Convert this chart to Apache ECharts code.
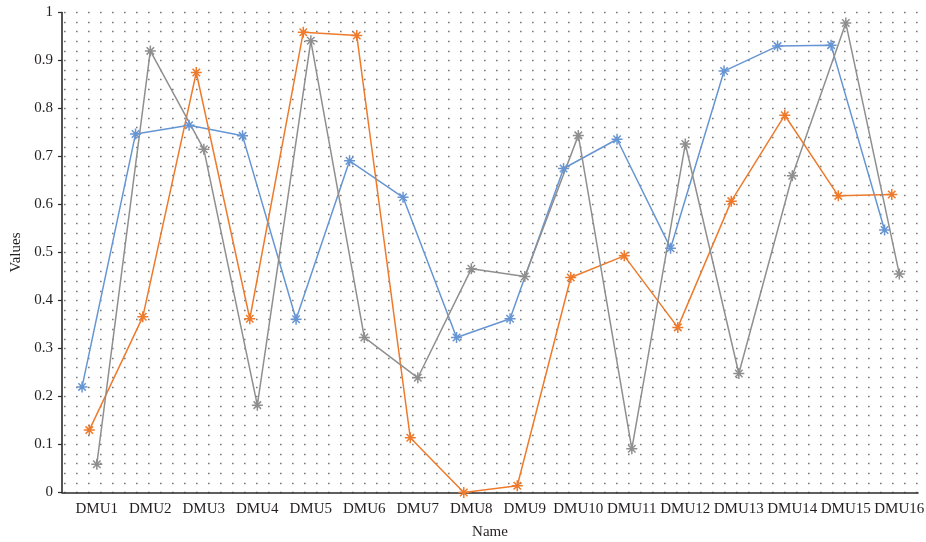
<!DOCTYPE html>
<html>
<head>
<meta charset="utf-8">
<title>DMU values</title>
<script src="https://cdn.jsdelivr.net/npm/echarts@6/dist/echarts.min.js"></script>
<style>
  html, body { margin: 0; padding: 0; background: #ffffff; }
  #chart { width: 926px; height: 542px; }
</style>
</head>
<body>
<div id="chart"></div>
<script>
// Decision-making units along the horizontal axis
const categories = ['DMU1', 'DMU2', 'DMU3', 'DMU4', 'DMU5', 'DMU6', 'DMU7', 'DMU8',
  'DMU9', 'DMU10', 'DMU11', 'DMU12', 'DMU13', 'DMU14', 'DMU15', 'DMU16'];

// Three efficiency series, one value per DMU
const blueValues = [0.220, 0.747, 0.765, 0.743, 0.361, 0.691, 0.615, 0.323,
  0.362, 0.675, 0.736, 0.509, 0.878, 0.930, 0.932, 0.547];
const orangeValues = [0.130, 0.366, 0.875, 0.362, 0.959, 0.952, 0.114, 0.000,
  0.014, 0.448, 0.493, 0.344, 0.607, 0.786, 0.618, 0.621];
const grayValues = [0.059, 0.920, 0.715, 0.182, 0.941, 0.323, 0.239, 0.466,
  0.450, 0.744, 0.091, 0.726, 0.248, 0.660, 0.978, 0.455];

// Value-axis ticks
const yTicks = [0, 0.1, 0.2, 0.3, 0.4, 0.5, 0.6, 0.7, 0.8, 0.9, 1];

// Each series sits slightly shifted inside its category band
const seriesOffsets = { blue: -0.125, orange: 0.01, gray: 0.151 };

const FONT = '"Liberation Serif", "DejaVu Serif", serif';
const TEXT_COLOR = '#231f20';
const AXIS_COLOR = '#2b2b2b';
const DOT_COLOR = '#7a7a7a';

// Asterisk marker drawn as stroked spokes
const ASTERISK = 'path://M0,5L10,5M5,0L5,10M1.6,1.6L8.4,8.4M8.4,1.6L1.6,8.4';

function toPoints(values, offset) {
  return values.map((v, i) => [i + 1 + offset, v]);
}

function makeSeries(name, values, offset, color) {
  return {
    name: name,
    type: 'line',
    xAxisIndex: 1,
    yAxisIndex: 0,
    data: toPoints(values, offset),
    symbol: ASTERISK,
    symbolSize: 11,
    showSymbol: true,
    lineStyle: { color: color, width: 1.5 },
    itemStyle: { color: color, borderColor: color, borderWidth: 1.5 },
    emphasis: { disabled: true },
    animation: false,
    z: 3
  };
}

const dotted = {
  color: DOT_COLOR,
  width: 1.3,
  type: [1.6, 10.4],
  dashOffset: 10
};

const chart = echarts.init(document.getElementById('chart'), null, { renderer: 'canvas' });

chart.setOption({
  backgroundColor: '#ffffff',
  animation: false,
  grid: {
    left: 62, right: 8, top: 12.5, bottom: 49.5,
    containLabel: false,
    outerBoundsMode: 'none'
  },
  xAxis: [
    {
      type: 'category',
      data: categories,
      boundaryGap: true,
      name: 'Name',
      nameLocation: 'middle',
      nameGap: 32.5,
      nameTextStyle: { fontFamily: FONT, fontSize: 15, color: TEXT_COLOR },
      axisLine: { show: true, lineStyle: { color: AXIS_COLOR, width: 1.6 } },
      axisTick: { show: false },
      axisLabel: {
        interval: 0,
        margin: 9,
        fontFamily: FONT,
        fontSize: 15,
        color: TEXT_COLOR,
        padding: [0, 0, 0, 16]
      },
      splitLine: { show: false }
    },
    {
      type: 'value',
      min: 0.5,
      max: 16.5,
      show: false,
      splitLine: { show: false }
    }
  ],
  yAxis: {
    type: 'value',
    min: yTicks[0],
    max: yTicks[yTicks.length - 1],
    interval: 0.1,
    name: 'Values',
    nameLocation: 'middle',
    nameGap: 37,
    nameTextStyle: { fontFamily: FONT, fontSize: 15, color: TEXT_COLOR },
    axisLine: { show: true, lineStyle: { color: AXIS_COLOR, width: 1.6 } },
    axisTick: { show: true, inside: false, length: 4, lineStyle: { color: AXIS_COLOR, width: 1.2 } },
    axisLabel: {
      margin: 9,
      fontFamily: FONT,
      fontSize: 15,
      color: TEXT_COLOR,
      formatter: v => String(Math.round(v * 10) / 10)
    },
    splitLine: { show: true, lineStyle: dotted },
    minorTick: { show: false, splitNumber: 5 },
    minorSplitLine: { show: true, lineStyle: dotted }
  },
  series: [
    makeSeries('Series 1', blueValues, seriesOffsets.blue, '#6695d3'),
    makeSeries('Series 2', orangeValues, seriesOffsets.orange, '#ee7a2c'),
    makeSeries('Series 3', grayValues, seriesOffsets.gray, '#8f8f8f')
  ]
});
</script>
</body>
</html>
